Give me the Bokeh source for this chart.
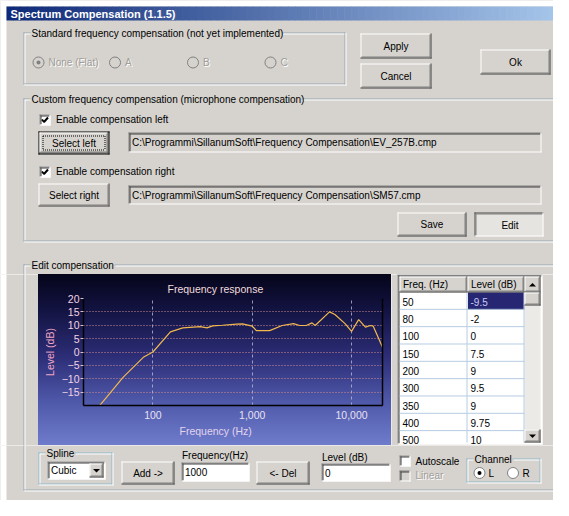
from bokeh.plotting import figure
from bokeh.models import Range1d, FixedTicker, NumeralTickFormatter, LinearAxis, Title
from bokeh.layouts import column, row
from bokeh.embed import file_html
from bokeh.resources import INLINE
from bokeh.core.properties import value

# ---------------- data ----------------
curve_freq = [25, 50, 80, 100, 150, 200, 300, 350, 400, 500, 700, 800, 1000, 1100, 1500,
              2000, 2600, 3000, 3500, 4000, 4300, 6000, 6800, 8600, 10000, 11800, 13800,
              15500, 16500, 20500]
curve_level = [-23, -9.5, -2, 0, 7.5, 9, 9.5, 9, 9.75, 10, 10.4, 10.5, 9.7, 8, 8,
               9.9, 10.6, 9.9, 9.9, 10.9, 9.9, 15, 14, 10.6, 7.7, 12.1, 9.3,
               9.9, 9.7, 1.8]
table_freq = ["50", "80", "100", "150", "200", "300", "350", "400", "500"]
table_level = ["-9.5", "-2", "0", "7.5", "9", "9.5", "9", "9.75", "10"]
y_ticks = [-15, -10, -5, 0, 5, 10, 15, 20]
x_ticks = [100, 1000, 10000]

BG = "#d6d3ce"
FONT = "Liberation Sans"
GRAYTXT = "#a09d98"
W, H = 553, 500

RECTS, SEGS, DSEGS, CIRCS, POLYS, TRIS, TEXTS = [], [], [], [], [], [], []


def rect(x0, y0, x1, y1, fill):
    RECTS.append((x0, y0, x1, y1, fill))


def seg(x0, y0, x1, y1, color, width=1):
    SEGS.append((x0, y0, x1, y1, color, width))


def dseg(x0, y0, x1, y1, color):
    DSEGS.append((x0, y0, x1, y1, color, 1))


def txt(x, y, s, color="black", size=10, align="left", bold=False):
    TEXTS.append((x, y, s, color, size, align, bold))


def raised(x0, y0, x1, y1):
    seg(x0, y0 + 0.5, x1 - 1, y0 + 0.5, "white")
    seg(x0 + 0.5, y0, x0 + 0.5, y1 - 1, "white")
    seg(x0, y1 - 0.5, x1, y1 - 0.5, "#404040")
    seg(x1 - 0.5, y0, x1 - 0.5, y1, "#404040")
    seg(x0 + 1, y1 - 1.5, x1 - 1, y1 - 1.5, "#808080")
    seg(x1 - 1.5, y0 + 1, x1 - 1.5, y1 - 1, "#808080")


def sunken(x0, y0, x1, y1):
    seg(x0, y0 + 0.5, x1, y0 + 0.5, "#808080")
    seg(x0 + 0.5, y0, x0 + 0.5, y1, "#808080")
    seg(x0 + 1, y0 + 1.5, x1 - 1, y0 + 1.5, "#404040")
    seg(x0 + 1.5, y0 + 1, x0 + 1.5, y1 - 1, "#404040")
    seg(x0, y1 - 0.5, x1, y1 - 0.5, "white")
    seg(x1 - 0.5, y0, x1 - 0.5, y1, "white")


def button(x0, y0, x1, y1, label, default=False, pressed=False):
    rect(x0, y0, x1, y1, "#e6e4e0" if pressed else BG)
    if default:
        seg(x0, y0 + 0.5, x1, y0 + 0.5, "black")
        seg(x0 + 0.5, y0, x0 + 0.5, y1, "black")
        seg(x0, y1 - 0.5, x1, y1 - 0.5, "black")
        seg(x1 - 0.5, y0, x1 - 0.5, y1, "black")
        raised(x0 + 1, y0 + 1, x1 - 1, y1 - 1)
        dseg(x0 + 4.5, y0 + 4.5, x1 - 4.5, y0 + 4.5, "black")
        dseg(x0 + 4.5, y1 - 4.5, x1 - 4.5, y1 - 4.5, "black")
        dseg(x0 + 4.5, y0 + 4.5, x0 + 4.5, y1 - 4.5, "black")
        dseg(x1 - 4.5, y0 + 4.5, x1 - 4.5, y1 - 4.5, "black")
    elif pressed:
        seg(x0, y0 + 0.5, x1, y0 + 0.5, "#404040")
        seg(x0 + 0.5, y0, x0 + 0.5, y1, "#404040")
        seg(x0 + 1, y0 + 1.5, x1 - 1, y0 + 1.5, "#808080")
        seg(x0 + 1.5, y0 + 1, x0 + 1.5, y1 - 1, "#808080")
        seg(x0, y1 - 0.5, x1, y1 - 0.5, "white")
        seg(x1 - 0.5, y0, x1 - 0.5, y1, "white")
    else:
        raised(x0, y0, x1, y1)
    off = 1 if pressed else 0
    txt((x0 + x1) / 2 + off, (y0 + y1) / 2 + off, label, align="center")


def checkbox(x0, y0, checked=False, disabled=False):
    rect(x0, y0, x0 + 11, y0 + 11, BG if disabled else "white")
    sunken(x0, y0, x0 + 11, y0 + 11)
    if checked:
        POLYS.append(([x0 + 2.5, x0 + 4.5, x0 + 8.5], [y0 + 5, y0 + 7.5, y0 + 3], "black", 2))


def radio(cx, cy, selected=False, disabled=False):
    CIRCS.append((cx, cy, 5.5, BG if disabled else "white", "#808080"))
    if selected:
        CIRCS.append((cx, cy, 2, "#808080" if disabled else "black", None))


def field(x0, y0, x1, y1, fill, text, color="black"):
    rect(x0, y0, x1, y1, fill)
    sunken(x0, y0, x1, y1)
    txt(x0 + 3.5, (y0 + y1) / 2, text, color=color)


def group(x0, y0, x1, y1, title, title_end, color="#98a6b0"):
    tx = x0 + 8
    for xa, xb in [(x0, tx - 1), (title_end, x1)]:
        seg(xa, y0 + 0.5, xb, y0 + 0.5, color)
        seg(xa + 1, y0 + 1.5, xb, y0 + 1.5, "white")
    seg(x0 + 0.5, y0, x0 + 0.5, y1, color)
    seg(x0 + 1.5, y0 + 1, x0 + 1.5, y1 - 1, "white")
    seg(x0, y1 - 1.5, x1 - 1, y1 - 1.5, color)
    seg(x0, y1 - 0.5, x1, y1 - 0.5, "white")
    seg(x1 - 1.5, y0, x1 - 1.5, y1 - 1, color)
    seg(x1 - 0.5, y0, x1 - 0.5, y1, "white")
    txt(tx, y0 + 1, title)


def tri(cx, cy, down=True, color="black"):
    if down:
        TRIS.append(([cx - 3.5, cx + 3.5, cx], [cy - 1.5, cy - 1.5, cy + 2], color))
    else:
        TRIS.append(([cx - 3.5, cx + 3.5, cx], [cy + 2, cy + 2, cy - 1.5], color))


def lerp(c0, c1, t):
    a = [int(c0[i:i + 2], 16) for i in (1, 3, 5)]
    b = [int(c1[i:i + 2], 16) for i in (1, 3, 5)]
    return "#%02x%02x%02x" % tuple(int(round(a[k] + (b[k] - a[k]) * t)) for k in range(3))


# ---------------- dialog ----------------
rect(0, 0, 6, H, "white")
rect(0, 0, W, 6, "white")
NS = 80
for i in range(NS):
    xa = 6 + (569 - 6) * i / NS
    xb = 6 + (569 - 6) * (i + 1) / NS + 0.5
    rect(xa, 6, xb, 20, lerp("#0f2a78", "#a8c8ec", i / (NS - 1)))
txt(10, 13, "Spectrum Compensation (1.1.5)", color="white", size=11, bold=True)

# group 1
group(23, 32, 346, 85, "Standard frequency compensation (not yet implemented)", 281)
for cx, label, sel in [(38, "None (Flat)", True), (114.5, "A", False), (192.5, "B", False), (270, "C", False)]:
    radio(cx, 62, selected=sel, disabled=True)
    txt(cx + 10 + 1, 62 + 1, label, color="white")
    txt(cx + 10, 62, label, color=GRAYTXT)

button(360, 33, 431, 58, "Apply")
button(360, 63, 431, 88, "Cancel")
button(480, 49, 550, 74, "Ok")

# group 2
group(23, 98, 556, 242, "Custom frequency compensation (microphone compensation)", 301)
checkbox(39, 114, checked=True)
txt(55.5, 119, "Enable compensation left")
button(38, 131, 109, 154, "Select left", default=True)
field(128, 132, 541, 152, BG, "C:\\Programmi\\SillanumSoft\\Frequency Compensation\\EV_257B.cmp")
checkbox(39, 166, checked=True)
txt(55.5, 171, "Enable compensation right")
button(38, 183, 109, 206, "Select right")
field(128, 185, 541, 204, BG, "C:\\Programmi\\SillanumSoft\\Frequency Compensation\\SM57.cmp")
button(397, 212, 466, 236, "Save")
button(474, 212, 543, 236, "Edit", pressed=True)

# group 3
group(23, 264, 556, 491, "Edit compensation", 114)

# table
TX0, TY0, TX1, TY1 = 397, 274, 542, 444
rect(TX0, TY0, TX1, TY1, "white")
sunken(TX0, TY0, TX1, TY1)
COLS = [399, 467, 524]
SBX0, SBX1 = 524, 540
HY0, HY1 = 276, 292
for ca, cb, h in [(COLS[0], COLS[1], "Freq. (Hz)"), (COLS[1], COLS[2], "Level (dB)")]:
    rect(ca, HY0, cb, HY1, BG)
    raised(ca, HY0, cb, HY1)
    txt(ca + 3.5, (HY0 + HY1) / 2, h)
RH = 17.33
BOT = 442
for i, (fq, lv) in enumerate(zip(table_freq, table_level)):
    ya = HY1 + i * RH
    yb = min(ya + RH, BOT)
    if ya >= BOT:
        break
    if i == 0:
        rect(COLS[1] + 0.5, ya, COLS[2], yb, "#262672")
    if ya + RH <= BOT:
        seg(COLS[0], yb - 0.5, COLS[2], yb - 0.5, "#b6cce2")
    seg(COLS[1] - 0.5, ya, COLS[1] - 0.5, yb, "#b6cce2")
    seg(COLS[2] - 0.5, ya, COLS[2] - 0.5, yb, "#b6cce2")
    if ya + RH / 2 < BOT + 2:
        txt(COLS[0] + 3, ya + RH / 2 + 0.5, fq)
        txt(COLS[1] + 3, ya + RH / 2 + 0.5, lv, color="#c8ccf4" if i == 0 else "black")
# scrollbar
rect(SBX0, HY0, SBX1, BOT, "#eceae6")
for ya, yb in [(HY0, HY1), (HY1, 305), (429, BOT)]:
    rect(SBX0, ya, SBX1, yb, BG)
    raised(SBX0, ya, SBX1, yb)
tri((SBX0 + SBX1) / 2, (HY0 + HY1) / 2, down=False)
tri((SBX0 + SBX1) / 2, (429 + BOT) / 2, down=True)

# bottom controls
group(38, 452, 113, 485, "Spline", 74, color="#8fb6c6")
rect(47, 461, 105, 479, "white")
sunken(47, 461, 105, 479)
txt(50.5, 470, "Cubic")
rect(89, 463, 103, 477, BG)
raised(89, 463, 103, 477)
tri(96, 470, down=True)
button(121, 461, 174, 484, "Add ->")
txt(181.5, 455, "Frequency(Hz)")
field(181, 462, 249, 481, "white", "1000")
button(256, 461, 309, 484, "<- Del")
txt(321.5, 456.5, "Level (dB)")
field(321, 463, 390, 481, "white", "0")
checkbox(399, 455)
txt(415, 461, "Autoscale")
checkbox(399, 470, disabled=True)
txt(416, 476, "Linear", color="white")
txt(415, 475, "Linear", color=GRAYTXT)
group(466, 458, 541, 483, "Channel", 512, color="#8fb6c6")
radio(479, 472.5, selected=True)
txt(488, 472.5, "L")
radio(512.5, 472.5)
txt(522, 472.5, "R")


def inter(ax0, ay0, ax1, ay1, x0, y0, x1, y1):
    return min(ax0, ax1) < x1 and max(ax0, ax1) > x0 and min(ay0, ay1) < y1 and max(ay0, ay1) > y0


def panel(x0, x1, y0, y1):
    f = figure(width=x1 - x0, height=y1 - y0, x_range=Range1d(x0, x1), y_range=Range1d(y1, y0),
               output_backend="svg", toolbar_location=None, min_border=0,
               x_axis_location=None, y_axis_location=None, frame_align=False,
               background_fill_color=BG, border_fill_color=BG, outline_line_color=None)
    f.grid.visible = False
    rs = [r for r in RECTS if inter(r[0], r[1], r[2], r[3], x0, y0, x1, y1)]
    if rs:
        f.quad(left=[r[0] for r in rs], right=[r[2] for r in rs], top=[r[1] for r in rs],
               bottom=[r[3] for r in rs], fill_color=[r[4] for r in rs], line_color=None)
    for lst, dash in [(SEGS, "solid"), (DSEGS, "1 1")]:
        ss = [s for s in lst if inter(s[0] - 0.6, s[1] - 0.6, s[2] + 0.6, s[3] + 0.6, x0, y0, x1, y1)]
        if ss:
            f.segment(x0=[s[0] for s in ss], y0=[s[1] for s in ss], x1=[s[2] for s in ss],
                      y1=[s[3] for s in ss], line_color=[s[4] for s in ss], line_width=1,
                      line_dash=dash)
    cs = [c for c in CIRCS if x0 <= c[0] <= x1 and y0 <= c[1] <= y1]
    for c in cs:
        f.circle(x=[c[0]], y=[c[1]], radius=c[2], fill_color=c[3], line_color=c[4])
    ps = [p_ for p_ in POLYS if x0 <= p_[0][0] <= x1 and y0 <= p_[1][0] <= y1]
    if ps:
        f.multi_line(xs=[p_[0] for p_ in ps], ys=[p_[1] for p_ in ps], line_color="black", line_width=2)
    ts = [t for t in TRIS if x0 <= t[0][0] <= x1 and y0 <= t[1][0] <= y1]
    if ts:
        f.patches(xs=[t[0] for t in ts], ys=[t[1] for t in ts], fill_color="black", line_color=None)
    groups = {}
    for t in TEXTS:
        if x0 <= t[0] < x1 and y0 <= t[1] < y1:
            groups.setdefault((t[4], t[5], t[6]), []).append(t)
    for (size, align, bold), items in groups.items():
        f.text(x=[t[0] for t in items], y=[t[1] for t in items], text=[t[2] for t in items],
               text_color=[t[3] for t in items], text_font=value(FONT),
               text_font_size=f"{size}px", text_font_style="bold" if bold else "normal",
               text_align=align, text_baseline="middle")
    return f


CX0, CX1, CY0, CY1 = 38, 391, 274, 445
top = panel(0, W, 0, CY0)
left = panel(0, CX0, CY0, CY1)
right = panel(CX1, W, CY0, CY1)
bottom = panel(0, W, CY1, H)

# ---------------- chart ----------------
p = figure(width=CX1 - CX0, height=CY1 - CY0, x_axis_type="log", x_range=Range1d(20, 20500),
           y_range=Range1d(-20, 20), output_backend="svg", toolbar_location=None,
           min_border_left=45, min_border_right=9, min_border_top=24, min_border_bottom=40,
           background_fill_alpha=0, border_fill_alpha=0, outline_line_color=None,
           frame_align=False,
           styles={"background": "linear-gradient(to bottom, #05051a 0%, #121240 20%, #2c2d76 48%, #4f59aa 75%, #6f7ccb 100%)"})

p.title.text = "Frequency response"
p.title.align = "left"
p.title.offset = 84
p.title.text_font = FONT
p.title.text_font_size = "10.5px"
p.title.text_font_style = "normal"
p.title.text_color = "#f2dcdc"
p.title.standoff = 8

p.xaxis.ticker = FixedTicker(ticks=x_ticks, minor_ticks=[])
p.xaxis.formatter = NumeralTickFormatter(format="0,0")
p.xaxis.major_tick_line_color = None
p.xaxis.minor_tick_line_color = None
p.xaxis.major_tick_out = 0
p.xaxis.major_tick_in = 0
p.xaxis.major_label_standoff = 5
p.xaxis.axis_line_color = "black"
p.xaxis.axis_line_width = 1.5
p.xaxis.major_label_text_color = "#e8e0f2"
p.xaxis.major_label_text_font = FONT
p.xaxis.major_label_text_font_size = "10.5px"

p.yaxis.ticker = FixedTicker(ticks=y_ticks, minor_ticks=[])
p.yaxis.major_tick_out = 3
p.yaxis.major_tick_in = 0
p.yaxis.minor_tick_line_color = None
p.yaxis.major_tick_line_color = "#d8c0d0"
p.yaxis.major_label_standoff = 1
p.yaxis.axis_line_color = "black"
p.yaxis.axis_line_width = 1.5
p.yaxis.major_label_text_color = "#f2d4e4"
p.yaxis.major_label_text_font = FONT
p.yaxis.major_label_text_font_size = "10.5px"
p.yaxis.axis_label = "Level (dB)"
p.yaxis.axis_label_standoff = 3
p.yaxis.axis_label_text_color = "#f0a6c8"
p.yaxis.axis_label_text_font = FONT
p.yaxis.axis_label_text_font_size = "10.5px"
p.yaxis.axis_label_text_font_style = "normal"

right_axis = LinearAxis(ticker=FixedTicker(ticks=[], minor_ticks=[]), axis_line_color="black",
                        axis_line_width=1.5, major_tick_line_color=None, minor_tick_line_color=None,
                        major_label_text_font_size="0px")
p.add_layout(right_axis, "right")

xlab = Title(text="Frequency (Hz)", align="left", offset=96, text_font=FONT,
             text_font_size="10.5px", text_font_style="normal", text_color="#e2d4ec", standoff=2)
p.add_layout(xlab, "below")

p.xgrid.grid_line_color = "#b8b8d4"
p.xgrid.grid_line_dash = "3 3"
p.xgrid.grid_line_alpha = 0.8
p.ygrid.grid_line_color = "#d08c90"
p.ygrid.grid_line_dash = "1 2"

p.line(curve_freq, curve_level, line_color="#f2b84e", line_width=1.2)

layout = column(top, row(left, p, right, spacing=0), bottom, spacing=0)

with open("out.html", "w") as fh:
    fh.write(file_html(layout, INLINE))
